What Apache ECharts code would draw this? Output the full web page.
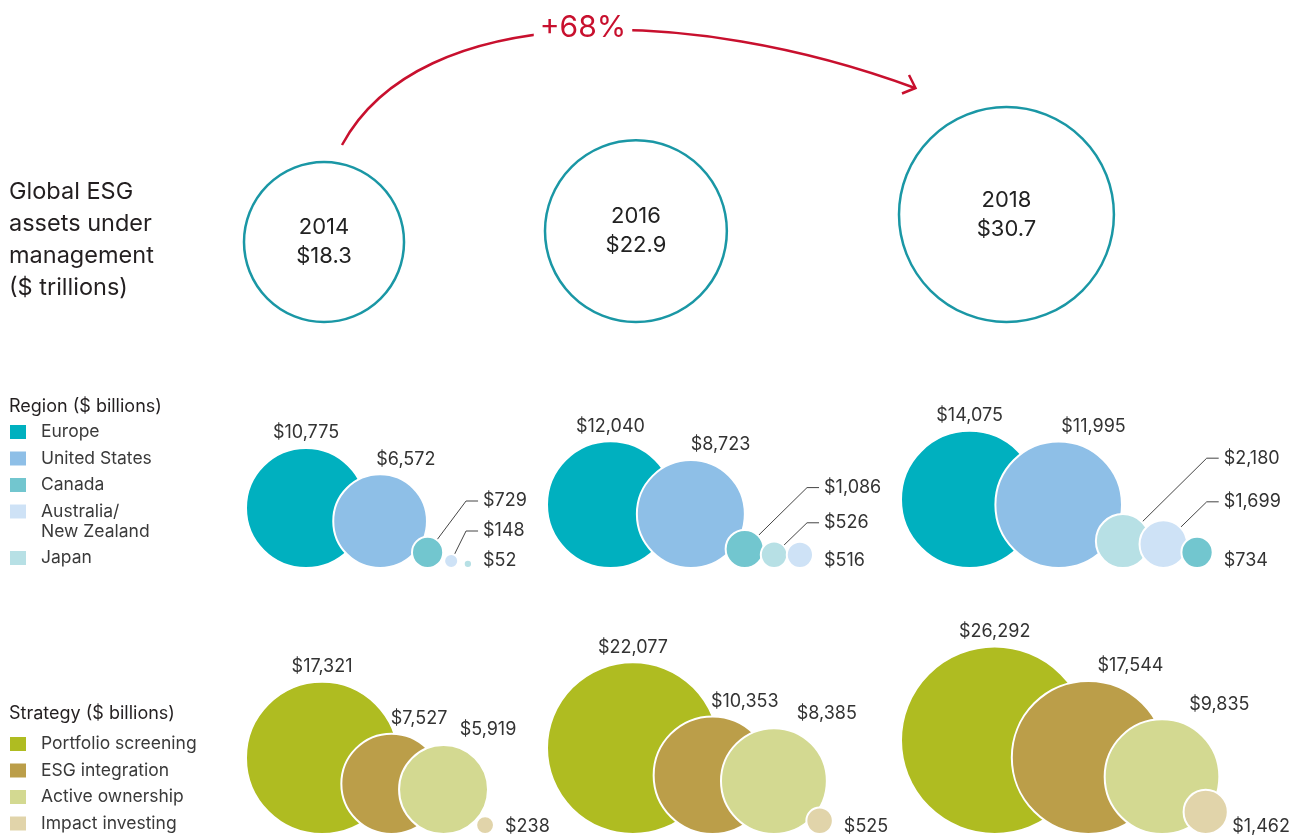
<!DOCTYPE html>
<html lang="en">
<head>
<meta charset="utf-8">
<title>Global ESG assets under management</title>
<script src="https://cdn.jsdelivr.net/npm/echarts/dist/echarts.min.js"></script>
<style>
  html, body { margin: 0; padding: 0; background: #fff; }
  #chart { width: 1293px; height: 837px; }
</style>
</head>
<body>
<div id="chart"></div>
<script>
// data
const years = ['2014', '2016', '2018'];
const totalAssets = [18.3, 22.9, 30.7]; // $ trillions

const regionNames = ['Europe', 'United States', 'Canada', 'Australia/\nNew Zealand', 'Japan'];
const europe = [10775, 12040, 14075];
const unitedStates = [6572, 8723, 11995];
const canada = [729, 1086, 734];
const australiaNZ = [148, 516, 1699];
const japan = [52, 526, 2180];

const strategyNames = ['Portfolio screening', 'ESG integration', 'Active ownership', 'Impact investing'];
const portfolioScreening = [17321, 22077, 26292];
const esgIntegration = [7527, 10353, 17544];
const activeOwnership = [5919, 8385, 9835];
const impactInvesting = [238, 525, 1462];

// styles / layout
const FONT = 'Inter, "Liberation Sans", Arial, sans-serif';
const regionColors = ['#00b0bf', '#8ebfe7', '#72c6cf', '#cee2f6', '#b7e0e5'];
const strategyColors = ['#afbc21', '#bb9e49', '#d3d991', '#e1d4aa'];
const W = 1293, H = 837;
const colLeft = [246, 547, 901];
const topBase = 322, regionBase = 568, strategyBase = 834;

const bubbleR = v => 0.578 * Math.sqrt(v);
const totalR = v => 15.26 * Math.pow(v, 0.57);
const money = v => '$' + v.toLocaleString('en-US');

// bubbles sorted big -> small, packed left to right on a common baseline
function packRow(series, colors, yi, base, f, c) {
    const items = series
        .map((arr, ci) => ({ v: arr[yi], color: colors[ci], r: bubbleR(arr[yi]) }))
        .sort((a, b) => b.v - a.v);
    items.forEach((it, i) => {
        if (i === 0) it.x = colLeft[yi] + it.r;
        else {
            const p = items[i - 1];
            it.x = p.x + Math.max(f * (p.r + it.r) + c, p.r - it.r + 6);
        }
        it.y = base - it.r;
    });
    return items;
}

function placeLabels(items, base) {
    const n = items.length, last = items[n - 1];
    const colX = last.x + last.r + 11;
    let nextY = base - 7;
    for (let i = n - 1; i >= 0; i--) {
        const it = items[i], top = it.y - it.r;
        if (i === 0) it.label = { x: it.x, y: top - 15, align: 'center' };
        else if (it.r > 35) it.label = { x: it.x + it.r * (i === 1 ? 0.55 : 1.0), y: top - 15, align: 'center' };
        else if (i === n - 1) it.label = { x: colX, y: nextY, align: 'left', clamp: true };
        else {
            const px = it.x + it.r * 0.71, py = it.y - it.r * 0.71;
            const y = Math.min(py - Math.max(colX - 18 - px, 12), nextY - 30);
            it.label = { x: colX - 5, y, align: 'left', leader: true, clamp: true };
            nextY = y;
        }
    }
}

function rowData(series, colors, base, f, c) {
    const data = [], labels = [];
    years.forEach((yr, yi) => {
        const items = packRow(series, colors, yi, base, f, c);
        placeLabels(items, base);
        items.forEach(it => {
            const d = { value: [it.x, it.y, it.v], itemStyle: { color: it.color } };
            if (it.label.leader) {
                d.labelLine = { show: true };
                d.label = { padding: [0, 0, 0, 5], backgroundColor: 'rgba(255,255,255,0)' };
            }
            data.push(d);
            labels.push(it.label);
        });
    });
    return { data, labels };
}

const region = rowData([europe, unitedStates, canada, australiaNZ, japan], regionColors, regionBase, 0.6, 10);
const strategy = rowData([portfolioScreening, esgIntegration, activeOwnership, impactInvesting], strategyColors, strategyBase, 0.55, 0);

const totalData = totalAssets.map((v, i) => {
    const r = totalR(v);
    return { value: [colLeft[i] + r - 2, topBase - r, v], name: years[i] };
});

const layoutFrom = labels => p => {
    const l = labels[p.dataIndex];
    let x = l.x;
    if (l.clamp) x = Math.min(x, W - 3 - p.labelRect.width);
    return { x, y: l.y, align: l.align, verticalAlign: 'middle' };
};

const bubbleLabel = { show: true, formatter: p => money(p.value[2]), color: '#333', fontSize: 18, fontFamily: FONT };
const bubbleLine = { show: false, length2: 12, lineStyle: { color: '#444', width: 1 } };

// legend blocks drawn as graphic
function legendBlock(title, names, colors, titleY, firstY) {
    const els = [{
        type: 'text',
        style: { text: title, x: 9, y: titleY, verticalAlign: 'middle', fontSize: 18, fontFamily: FONT, fill: '#231f20' }
    }];
    let y = firstY;
    names.forEach((nm, i) => {
        const lines = nm.split('\n').length;
        els.push({ type: 'rect', shape: { x: 10, y: y - 7, width: 16, height: 14 }, style: { fill: colors[i] } });
        els.push({
            type: 'text',
            style: { text: nm, x: 41, y: y - 10, verticalAlign: 'top', lineHeight: 20, fontSize: 17.5, fontFamily: FONT, fill: '#3a3a3a' }
        });
        y += 26.5 + (lines - 1) * 20;
    });
    return els;
}

const growth = Math.round((totalAssets[2] / totalAssets[0] - 1) * 100);

const chart = echarts.init(document.getElementById('chart'));
chart.setOption({
    animation: false,
    grid: { left: 0, right: 0, top: 0, bottom: 0 },
    xAxis: { type: 'value', min: 0, max: W, show: false },
    yAxis: { type: 'value', min: 0, max: H, inverse: true, show: false },
    graphic: [
        {
            type: 'text',
            style: {
                text: 'Global ESG\nassets under\nmanagement\n($ trillions)',
                x: 9, y: 176, verticalAlign: 'top', lineHeight: 32, fontSize: 23.5, fontFamily: FONT, fill: '#231f20'
            }
        },
        ...legendBlock('Region ($ billions)', regionNames, regionColors, 407, 432),
        ...legendBlock('Strategy ($ billions)', strategyNames, strategyColors, 714, 744),
        {
            type: 'bezierCurve',
            shape: { x1: 342, y1: 145, cpx1: 420, cpy1: 0, cpx2: 690, cpy2: 5, x2: 915, y2: 88 },
            style: { stroke: '#c8102e', lineWidth: 2.5, fill: 'none' }
        },
        {
            type: 'polyline',
            shape: { points: [[909, 75], [915.5, 88], [902, 93.5]] },
            style: { stroke: '#c8102e', lineWidth: 2.5, fill: 'none' }
        },
        {
            type: 'text',
            z: 10,
            style: {
                text: '+' + growth + '%', x: 583, y: 28, align: 'center', verticalAlign: 'middle',
                fontSize: 30, fontFamily: FONT, fill: '#c8102e', backgroundColor: '#fff', padding: [2, 6]
            }
        }
    ],
    series: [
        {
            type: 'scatter',
            name: 'Global ESG assets ($ trillions)',
            data: totalData,
            symbolSize: v => 2 * totalR(v[2]),
            itemStyle: { color: '#fff', borderColor: '#1a97a5', borderWidth: 2.5, opacity: 1 },
            label: {
                show: true, position: 'inside',
                formatter: p => years[p.dataIndex] + '\n$' + p.value[2].toFixed(1),
                fontSize: 22, lineHeight: 29, color: '#222', fontFamily: FONT
            },
            silent: true
        },
        {
            type: 'scatter',
            name: 'Region ($ billions)',
            data: region.data,
            symbolSize: v => 2 * bubbleR(v[2]),
            itemStyle: { borderColor: '#fff', borderWidth: 2, opacity: 1 },
            label: bubbleLabel,
            labelLine: bubbleLine,
            labelLayout: layoutFrom(region.labels),
            silent: true
        },
        {
            type: 'scatter',
            name: 'Strategy ($ billions)',
            data: strategy.data,
            symbolSize: v => 2 * bubbleR(v[2]),
            itemStyle: { borderColor: '#fff', borderWidth: 2, opacity: 1 },
            label: bubbleLabel,
            labelLine: bubbleLine,
            labelLayout: layoutFrom(strategy.labels),
            silent: true
        }
    ]
});

window.addEventListener('resize', () => chart.resize());
</script>
</body>
</html>
